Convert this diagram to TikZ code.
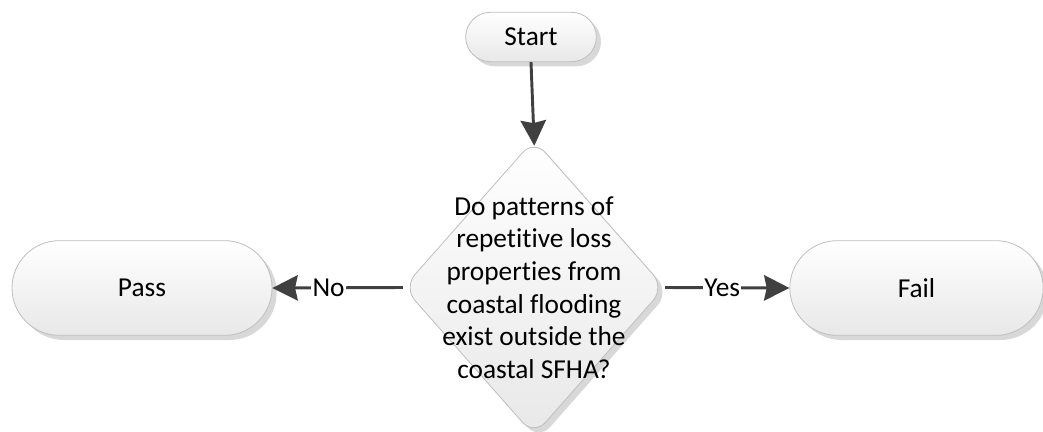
\documentclass[tikz,border=0pt]{standalone}
\usepackage{fontspec}
\setmainfont{Carlito}[Ligatures=NoCommon]
\usetikzlibrary{shapes.geometric, shapes.misc, shadows, arrows.meta}
\definecolor{lineGrey}{RGB}{64,64,64}
\definecolor{edgeGrey}{RGB}{191,191,191}
\definecolor{shadeGrey}{RGB}{216,216,216}

\tikzset{
	box/.style={draw=edgeGrey, line width=0.6pt, top color=white, bottom color=black!9,
		drop shadow={shadow xshift=3.5pt, shadow yshift=-3.5pt, fill=shadeGrey, opacity=1},
		font=\fontsize{20.5}{24.5}\selectfont},
	pill/.style={box, rounded rectangle, inner sep=0pt},
	decision/.style={box, diamond, rounded corners=13pt, inner sep=0pt,
		minimum width=196pt, minimum height=222pt},
	qtext/.style={align=center, font=\fontsize{20.5}{24.5}\selectfont},
	flow/.style={draw=lineGrey, line width=2.2pt,
		-{Stealth[length=19pt, width=19pt, inset=2pt]}},
	answer/.style={fill=white, inner sep=1pt, font=\fontsize{20.5}{24.5}\selectfont}
}

\begin{document}
\begin{tikzpicture}[x=0.75pt, y=-0.75pt]

	\useasboundingbox (0,0) rectangle (1043,432);

% Draw shapes.

	\node[pill, minimum width=98pt, minimum height=37pt] (start) at (531, 37) {Start};
	\node[decision, label={[qtext]center:{Do patterns of\\repetitive loss\\properties from\\coastal flooding\\exist outside the\\coastal SFHA?}}] (question) at (534, 287.5) {};
	\node[pill, minimum width=195pt, minimum height=71pt] (pass) at (142, 288) {Pass};
	\node[pill, minimum width=190pt, minimum height=71pt] (fail) at (916.5, 288) {Fail};

% Draw arrows.

	\draw[flow, shorten >=-5pt] (start.south) -- (question.north);
	\draw[flow] (question.west) -- (pass.east) node[answer, pos=0.57] {No};
	\draw[flow] (question.east) -- (fail.west) node[answer, pos=0.46] {Yes};

\end{tikzpicture}
\end{document}
